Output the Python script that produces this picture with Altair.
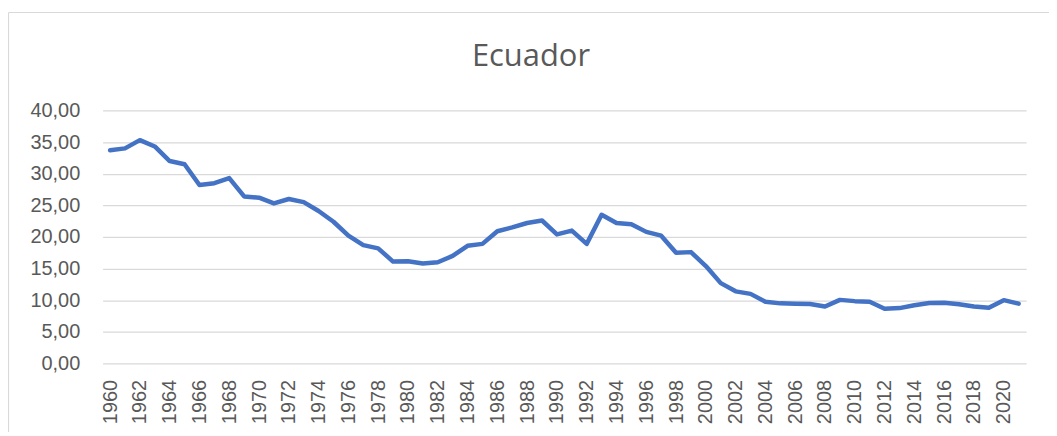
import altair as alt
import pandas as pd

years = list(range(1960, 2022))
values = [33.7, 34.0, 35.3, 34.3, 32.0, 31.5, 28.2, 28.5, 29.3, 26.4,
          26.2, 25.3, 26.0, 25.5, 24.1, 22.4, 20.2, 18.7, 18.2, 16.1,
          16.15, 15.8, 16.0, 17.0, 18.6, 18.9, 20.9, 21.5, 22.2, 22.6,
          20.4, 21.0, 18.9, 23.5, 22.2, 22.0, 20.8, 20.2, 17.5, 17.6,
          15.4, 12.7, 11.4, 11.0, 9.75, 9.5, 9.45, 9.4, 9.0, 10.05,
          9.85, 9.75, 8.65, 8.75, 9.2, 9.55, 9.6, 9.35, 9.0, 8.8,
          10.0, 9.45]
label_years = [y for y in years if y % 2 == 0]
y_ticks = [0, 5, 10, 15, 20, 25, 30, 35, 40]
title_text = "Ecuador"

df = pd.DataFrame({"year": years, "value": values})

W, H = 927, 254
PAD = {"left": 95, "top": 102, "right": 23, "bottom": 68}
GRAY = "#595959"
LINE = "#d9d9d9"

line = alt.Chart(df).mark_line(
    color="#4472C4", strokeWidth=4.5, strokeCap="round", strokeJoin="round"
).encode(
    x=alt.X("year:O", title=None,
            scale=alt.Scale(type="point", padding=0.5),
            axis=alt.Axis(values=label_years, labelAngle=-90, labelAlign="right",
                          labelBaseline="middle", labelPadding=16, ticks=False,
                          tickSize=0, domain=False, grid=False,
                          labelFont="Liberation Sans", labelFontSize=20,
                          labelColor=GRAY)),
    y=alt.Y("value:Q", title=None,
            scale=alt.Scale(domain=[0, 40], nice=False, zero=True),
            axis=alt.Axis(values=y_ticks, ticks=False, tickSize=0, domain=False,
                          grid=True, gridColor=LINE, gridWidth=1.2,
                          labelPadding=23, labelFont="Liberation Sans",
                          labelFontSize=20, labelColor=GRAY,
                          labelExpr="replace(format(datum.value, '.2f'), '.', ',')")),
)

one = alt.Data(values=[{}])
border_left = alt.Chart(one).mark_rule(color=LINE, strokeWidth=1.2).encode(
    x=alt.value(-94.5), y=alt.value(-98.3), y2=alt.value(H + 70))
border_top = alt.Chart(one).mark_rule(color=LINE, strokeWidth=1.2).encode(
    x=alt.value(-94.5), x2=alt.value(W + 30), y=alt.value(-98.3))
title = alt.Chart(one).mark_text(
    font="Open Sans", fontSize=31, color=GRAY, align="center", baseline="alphabetic"
).encode(x=alt.value(430), y=alt.value(-44.3), text=alt.value(title_text))

chart = alt.layer(border_left, border_top, title, line).properties(
    width=W, height=H, autosize=alt.AutoSizeParams(type="none"), padding=PAD
).configure_view(stroke=None)

chart.save("out.html", embed_options={"renderer": "svg", "actions": False})
